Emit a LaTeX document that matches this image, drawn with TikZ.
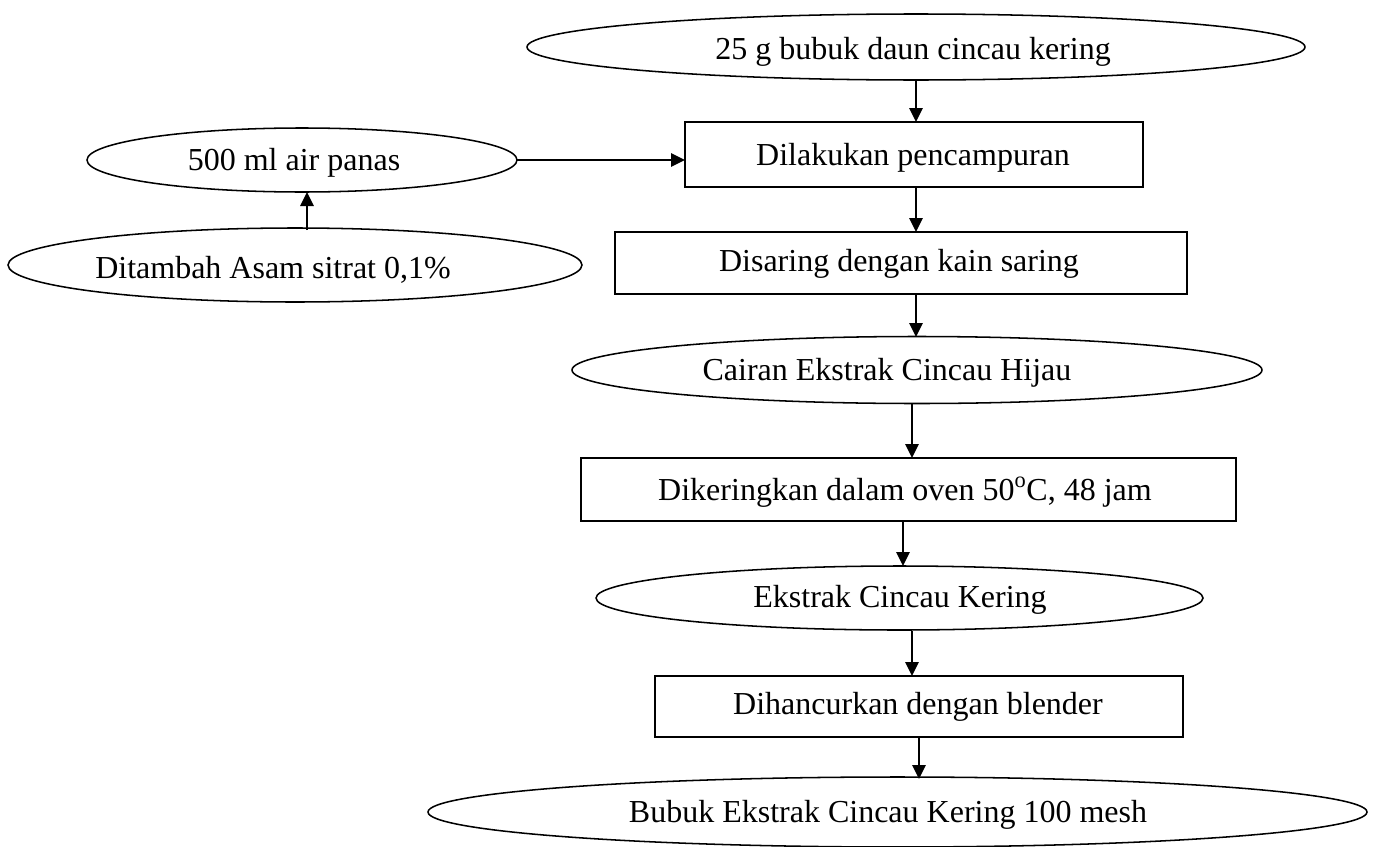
\documentclass[tikz,border=0pt]{standalone}
\usepackage{fontspec}
\setmainfont{Liberation Serif}
\usetikzlibrary{shapes.geometric,arrows.meta}
\tikzset{
  ell/.style={draw, ellipse, line width=1.15pt, inner sep=0pt, outer sep=0pt},
  box/.style={draw, rectangle, line width=1.15pt, inner sep=0pt, outer sep=0pt},
  sz/.style 2 args={minimum width=#1*0.75pt, minimum height=#2*0.75pt},
  lbl/.style={anchor=base, inner sep=0pt, font=\fontsize{24pt}{28pt}\selectfont},
  flow/.style={line width=1.5pt, -{Triangle[length=10.5pt,width=10pt]}}
}
\begin{document}
\begin{tikzpicture}[x=0.75pt,y=-0.75pt]
\useasboundingbox (0,0) rectangle (1373,846);
% shapes
\node[ell, sz={778}{66}] (e1) at (916,47) {};
\node[box, sz={458}{65}] (r1) at (914,154.5) {};
\node[ell, sz={430}{64}] (e2) at (302,160) {};
\node[ell, sz={574}{74}] (e3) at (295,265) {};
\node[box, sz={572}{62}] (r2) at (901,263) {};
\node[ell, sz={690}{67}] (e4) at (917,370) {};
\node[box, sz={655}{63}] (r3) at (908.5,489.5) {};
\node[ell, sz={607}{64}] (e5) at (899.5,598) {};
\node[box, sz={528}{61}] (r4) at (919,706.5) {};
\node[ell, sz={939}{70}] (e6) at (897.5,812) {};
% texts
\node[lbl] (t1) at (913,59) {25 g bubuk daun cincau kering};
\node[lbl] (t2) at (913,165) {Dilakukan pencampuran};
\node[lbl] (t3) at (294,170) {500 ml air panas};
\node[lbl] (t4) at (273,278) {Ditambah Asam sitrat 0,1\%};
\node[lbl] (t5) at (899,271) {Disaring dengan kain saring};
\node[lbl] (t6) at (887,380) {Cairan Ekstrak Cincau Hijau};
\node[lbl] (t7) at (905,500) {Dikeringkan dalam oven 50\textsuperscript{o}C, 48 jam};
\node[lbl] (t8) at (900,607) {Ekstrak Cincau Kering};
\node[lbl] (t9) at (918,714) {Dihancurkan dengan blender};
\node[lbl] (t10) at (888,822) {Bubuk Ekstrak Cincau Kering 100 mesh};
% connectors
\draw[flow] (e1.south -| 916,0) -- (r1.north -| 916,0);
\draw[flow] (e2.east) -- (r1.west |- e2.east);
\draw[flow] (307,230) -- (e2.south -| 307,0);
\draw[flow] (r1.south -| 916,0) -- (r2.north -| 916,0);
\draw[flow] (r2.south -| 916,0) -- (916,337);
\draw[flow] (912,404) -- (r3.north -| 912,0);
\draw[flow] (r3.south -| 903,0) -- (903,566);
\draw[flow] (912,631) -- (r4.north -| 912,0);
\draw[flow] (r4.south -| 919,0) -- (919,779);
\end{tikzpicture}
\end{document}
